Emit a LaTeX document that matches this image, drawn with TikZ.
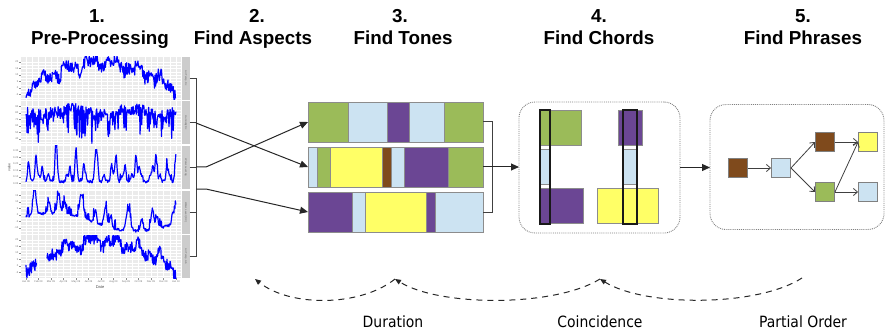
\documentclass[tikz,border=0pt]{standalone}
\usepackage{fontspec}
\setmainfont{Liberation Sans}
\newfontfamily\titlefont{Liberation Sans}
\newfontfamily\labfont[FakeStretch=0.9]{DejaVu Sans}
\usetikzlibrary{arrows.meta}
\definecolor{tgreen}{HTML}{9BBB59}
\definecolor{tblue}{HTML}{CCE3F2}
\definecolor{tpurple}{HTML}{6B4694}
\definecolor{tyellow}{HTML}{FFFF66}
\definecolor{tbrown}{HTML}{7F4A1C}
\definecolor{segline}{HTML}{8C8C8C}
\definecolor{panelbg}{HTML}{EBEBEB}
\definecolor{stripbg}{HTML}{CCCCCC}
\tikzset{
 ttl/.style={font=\titlefont\bfseries\fontsize{18.8}{20}\selectfont, inner sep=0, anchor=base},
 lab/.style={font=\labfont\fontsize{15.5}{18}\selectfont, inner sep=0},
 tinytxt/.style={font=\fontsize{2.6}{3}\selectfont, text=black!55, inner sep=0},
 seg/.style={draw=segline, line width=0.8pt},
 rowbox/.style={draw=segline, line width=0.9pt, minimum width=175pt, minimum height=40pt, inner sep=0, outer sep=0},
 mainarr/.style={draw=black!85, line width=1pt, -{Triangle[length=8pt,width=7pt]}},
 brk/.style={draw=black!75, line width=1pt},
 dbox/.style={draw=black!50, densely dotted, line width=0.9pt, rounded corners=16pt, inner sep=0, outer sep=0},
 pnode/.style={draw=black!50, line width=0.9pt, minimum size=19pt, inner sep=0},
 parr/.style={draw=black!75, line width=0.8pt, -{Straight Barb[length=4pt,width=7pt]}},
 darc/.style={draw=black!85, line width=1pt, dash pattern=on 6pt off 5pt, -{Triangle[length=6pt,width=5pt]}},
 bl/.style={blue, line width=1.2pt, line join=round},
 chordout/.style={draw=black!90, line width=1.1pt},
 stripnode/.style={fill=stripbg, minimum width=7.5pt, minimum height=43pt, inner sep=0},
}
\newcommand{\tseg}[5]{\filldraw[seg, fill=#5] (#1,#3) rectangle (#2,#4);}
\begin{document}
\begin{tikzpicture}[x=1pt,y=-1pt]
\useasboundingbox (0,0) rectangle (885,331);

% ---------- titles ----------
\node[ttl] (t1a) at (97,23) {1.};
\node[ttl] (t1b) at (100,45) {Pre-Processing};
\node[ttl] (t2a) at (257,23) {2.};
\node[ttl] (t2b) at (253,45) {Find Aspects};
\node[ttl] (t3a) at (400,23) {3.};
\node[ttl] (t3b) at (403,45) {Find Tones};
\node[ttl] (t4a) at (599,23) {4.};
\node[ttl] (t4b) at (599,45) {Find Chords};
\node[ttl] (t5a) at (803,23) {5.};
\node[ttl] (t5b) at (803,45) {Find Phrases};

% ---------- time series panels ----------
\foreach \p in {0,...,4} {
  \pgfmathsetmacro\ptop{57+44.5*\p}
  \fill[panelbg] (21,\ptop) rectangle (181,\ptop+43);
  \foreach \k in {0,...,11} \draw[white, line width=0.3pt] ({32.25+12.5*\k},\ptop) -- ++(0,43);
  \foreach \k in {0,...,12} \draw[white, line width=0.7pt] ({26+12.5*\k},\ptop) -- ++(0,43);
  \foreach \j in {0,...,5} {
    \draw[white, line width=0.7pt] (21,\ptop+5+6.5*\j) -- (181,\ptop+5+6.5*\j);
    \draw[white, line width=0.3pt] (21,\ptop+8.25+6.5*\j) -- (181,\ptop+8.25+6.5*\j);
    \draw[black!45, line width=0.3pt] (19.2,\ptop+5+6.5*\j) -- (21,\ptop+5+6.5*\j);
  }
}
% y tick labels
\foreach \lab [count=\j from 0] in {20,15,10,5,0,-5} \node[tinytxt, anchor=east] (ya\j) at (18.5,62+6.5*\j) {\lab};
\foreach \lab [count=\j from 0] in {90,80,70,60,50,40} \node[tinytxt, anchor=east] (yb\j) at (18.5,106.5+6.5*\j) {\lab};
\foreach \lab [count=\j from 0] in {0.30,0.25,0.20,0.15,0.10,0.05} \node[tinytxt, anchor=east] (yc\j) at (18.5,151+6.5*\j) {\lab};
\foreach \lab [count=\j from 0] in {15,10,5,0,-5,-10} \node[tinytxt, anchor=east] (yd\j) at (18.5,195.5+6.5*\j) {\lab};
\foreach \lab [count=\j from 0] in {20,15,10,5,0,-5} \node[tinytxt, anchor=east] (ye\j) at (18.5,240+6.5*\j) {\lab};
% x tick labels
\foreach \lab [count=\k from 0] in {Jan 09,Feb 09,Mar 09,Apr 09,May 09,Jun 09,Jul 09,Aug 09,Sep 09,Oct 09,Nov 09,Dec 09,Jan 10} {
  \draw[black!45, line width=0.3pt] ({26+12.5*\k},278) -- ++(0,1.8);
  \node[tinytxt] (xl\k) at ({26+12.5*\k},282) {\lab};
}
\node[font=\fontsize{4}{5}\selectfont, text=black!70, inner sep=0] (xdate) at (100,287.5) {Date};
\node[font=\fontsize{3.5}{4}\selectfont, text=black!70, inner sep=0, rotate=90] (yval) at (9,167.5) {value};

% strips
\foreach \lab [count=\i from 1] in {Air Temp. Dc,Humidity Dc,Water Level Ag,Water Level (DC),Air Temp. Ab} {
  \node[stripnode] (s\i) at (185.75,{57+21.5+44.5*(\i-1)}) {};
  \node[tinytxt, rotate=-90, text=black!60] (sl\i) at (s\i) {\lab};
}

% blue series
\pgfmathsetseed{11}
\begin{scope}
\clip (21,57) rectangle (181,100);
\draw[bl] plot[domain=0:1,samples=280,variable=\t] ({26+150*\t},{90-27*sin(180*\t)+4*sin(2300*\t)+3*sin(5100*\t+40)+13*(rnd-0.5)});
\end{scope}
\begin{scope}
\clip (21,101.5) rectangle (181,144.5);
\draw[bl] plot[domain=0:1,samples=280,variable=\t] ({26+150*\t},{106+12*rnd+3*sin(900*\t)+(rnd>0.75)*rnd*26});
\end{scope}
\begin{scope}
\clip (21,146) rectangle (181,189);
\draw[bl] plot[domain=0:1,samples=300,variable=\t] ({26+150*\t},{183-3*rnd-26*(sin(1350*\t)*sin(1350*\t)+0.0001)^20-16*(sin(1950*\t+60)*sin(1950*\t+60)+0.0001)^14-7*(sin(2900*\t+20)*sin(2900*\t+20)+0.0001)^4-(rnd>0.9)*rnd*8});
\end{scope}
\begin{scope}
\clip (21,190.5) rectangle (181,233.5);
\draw[bl] plot[domain=0:1,samples=300,variable=\t] ({26+150*\t},{215+12*\t+3*rnd-20*(sin(1150*\t+20)*sin(1150*\t+20)+0.0001)^14-12*(sin(1750*\t)*sin(1750*\t)+0.0001)^10-6*sin(400*\t)-(rnd>0.85)*rnd*10});
\end{scope}
\begin{scope}
\clip (21,235) rectangle (181,278);
\draw[bl] plot[domain=0:0.07,samples=22,variable=\t] ({26+150*\t},{268-27*sin(180*\t)+4*sin(2300*\t)+3*sin(5100*\t+40)+13*(rnd-0.5)});
\draw[bl] plot[domain=0.14:1,samples=250,variable=\t] ({26+150*\t},{268-27*sin(180*\t)+4*sin(2300*\t)+3*sin(5100*\t+40)+13*(rnd-0.5)});
\end{scope}

% ---------- aspect bracket ----------
\coordinate (ab) at (196,78.5);
\coordinate (ae) at (196,256.5);
\draw[brk] (ab) -- (ae);
\foreach \i in {1,...,5} \draw[brk] (s\i.east) -- (s\i.east -| ab);

% ---------- tone rows ----------
\tseg{308}{348}{102}{142}{tgreen}
\tseg{348}{387}{102}{142}{tblue}
\tseg{387}{409}{102}{142}{tpurple}
\tseg{409}{444}{102}{142}{tblue}
\tseg{444}{483}{102}{142}{tgreen}
\tseg{308}{317}{147}{187}{tblue}
\tseg{317}{330}{147}{187}{tgreen}
\tseg{330}{382}{147}{187}{tyellow}
\tseg{382}{391}{147}{187}{tbrown}
\tseg{391}{404}{147}{187}{tblue}
\tseg{404}{448}{147}{187}{tpurple}
\tseg{448}{483}{147}{187}{tgreen}
\tseg{308}{352}{192}{232}{tpurple}
\tseg{352}{365}{192}{232}{tblue}
\tseg{365}{426}{192}{232}{tyellow}
\tseg{426}{435}{192}{232}{tpurple}
\tseg{435}{483}{192}{232}{tblue}
\node[rowbox] (row1) at (395.5,122) {};
\node[rowbox] (row2) at (395.5,167) {};
\node[rowbox] (row3) at (395.5,212) {};

% aspect -> tone arrows
\coordinate (a2) at (196,123);
\coordinate (a3) at (196,167);
\coordinate (a3k) at (206,167);
\coordinate (a4) at (196,189);
\coordinate (a4k) at (206,189);
\draw[mainarr] (a2) -- (row2.west);
\draw[mainarr] (a3) -- (a3k) -- (row1.west);
\draw[mainarr] (a4) -- (a4k) -- (row3.west);

% ---------- chord box ----------
\node[dbox, minimum width=161pt, minimum height=131pt] (chord) at (599.5,167.5) {};
\coordinate (rb1) at (492,122);
\coordinate (rb3) at (492,212);
\draw[brk] (row1.east) -- (rb1) -- (rb3) -- (row3.east);
\draw[mainarr] (row2.east) -- (row2.east -| chord.west);

\tseg{540}{581}{110}{145}{tgreen}
\tseg{540}{550}{149}{184}{tblue}
\tseg{540}{583}{188}{223}{tpurple}
\draw[chordout] (540,110) rectangle (550,224);
\tseg{618}{642}{110}{145}{tpurple}
\tseg{623}{637}{149}{184}{tblue}
\tseg{597}{658}{188}{223}{tyellow}
\draw[chordout] (623,110) rectangle (637,224);

% ---------- phrase box ----------
\node[dbox, minimum width=174pt, minimum height=125pt] (phrase) at (797,167) {};
\draw[mainarr] (chord.east) -- (chord.east -| phrase.west);
\node[pnode, fill=tbrown] (pn1) at (738,168) {};
\node[pnode, fill=tblue] (pn2) at (781,168) {};
\node[pnode, fill=tbrown] (pn3) at (825,142) {};
\node[pnode, fill=tgreen] (pn4) at (825,192) {};
\node[pnode, fill=tyellow] (pn5) at (868,142) {};
\node[pnode, fill=tblue] (pn6) at (868,192) {};
\draw[parr] (pn1) -- (pn2);
\draw[parr] (pn2.east) -- (pn3.west);
\draw[parr] (pn2.east) -- (pn4.west);
\draw[parr] (pn3) -- (pn5);
\draw[parr] (pn4) -- (pn6);
\draw[parr] (pn4.east) -- (pn5.west);

% ---------- dashed feedback arcs ----------
\coordinate (d1) at (255,279);
\coordinate (d2) at (395,279);
\coordinate (d3) at (600,279);
\coordinate (d4) at (802,278);
\draw[darc] (d2) .. controls (360,307) and (290,307) .. (d1);
\draw[darc] (d3) .. controls (555,307) and (440,307) .. (d2);
\draw[darc] (d4) .. controls (757,307) and (645,307) .. (d3);
\node[lab] (l1) at (393,322) {Duration};
\node[lab] (l2) at (600,322) {Coincidence};
\node[lab] (l3) at (803,322) {Partial Order};
\end{tikzpicture}
\end{document}
